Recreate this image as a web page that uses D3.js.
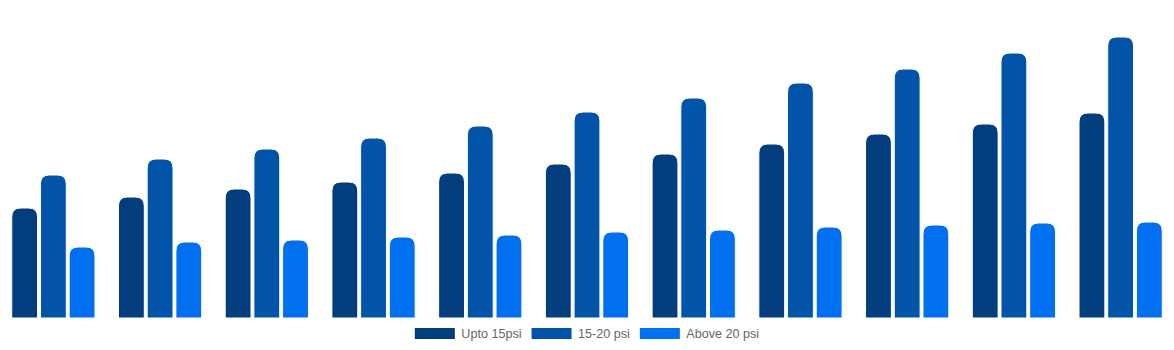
<!DOCTYPE html>
<html>
<head>
<meta charset="utf-8">
<script src="https://cdn.jsdelivr.net/npm/d3@7"></script>
<style>
  body { margin: 0; background: #fff; }
  svg { display: block; }
</style>
</head>
<body>
<svg id="chart"></svg>
<script>
const categories = ['1', '2', '3', '4', '5', '6', '7', '8', '9', '10', '11'];
const seriesNames = ['Upto 15psi', '15-20 psi', 'Above 20 psi'];
const upto15 = [110, 121, 129, 136, 145, 154, 164, 174, 184, 194, 205];
const from15to20 = [143, 159, 169, 180, 192, 206, 220, 235, 249, 265, 281];
const above20 = [71, 76, 78, 81, 83, 86, 88, 91, 93, 95, 96];
const colors = ['#023e7d', '#0254a8', '#006ff0'];

const width = 1174, height = 350;
const baseY = 318, topY = 18;

const series = [upto15, from15to20, above20];
const rows = categories.map((c, i) => ({ cat: c, values: series.map(s => s[i]) }));

const svg = d3.select('#chart')
    .attr('width', width)
    .attr('height', height);

const x0 = d3.scaleBand()
    .domain(categories)
    .range([0, width])
    .paddingInner(0.22)
    .paddingOuter(0.11);

const x1 = d3.scaleBand()
    .domain(d3.range(seriesNames.length))
    .range([0, x0.bandwidth()])
    .paddingInner(0.1);

const y = d3.scaleLinear()
    .domain([0, 300])
    .range([baseY, topY]);

// bar with rounded top corners
function topRounded(x, yTop, w, h, r) {
    r = Math.min(r, w / 2, h);
    return `M${x},${yTop + h}` +
        `V${yTop + r}` +
        `Q${x},${yTop} ${x + r},${yTop}` +
        `H${x + w - r}` +
        `Q${x + w},${yTop} ${x + w},${yTop + r}` +
        `V${yTop + h}Z`;
}

const groups = svg.append('g')
    .selectAll('g')
    .data(rows)
    .join('g')
    .attr('transform', d => `translate(${x0(d.cat)},0)`);

groups.selectAll('path')
    .data(d => d.values.map((v, k) => ({ k: k, v: v })))
    .join('path')
    .attr('d', d => topRounded(x1(d.k), y(d.v), x1.bandwidth(), baseY - y(d.v), 9))
    .attr('fill', d => colors[d.k])
    .attr('stroke', '#fff')
    .attr('stroke-width', 1);

// legend, centred under the plot
const legend = svg.append('g');
const items = legend.selectAll('g')
    .data(seriesNames)
    .join('g');

items.append('rect')
    .attr('width', 40)
    .attr('height', 11)
    .attr('y', 328)
    .attr('fill', (d, i) => colors[i]);

items.append('text')
    .attr('x', 46.5)
    .attr('y', 338)
    .attr('font-family', 'Liberation Sans, Arial, sans-serif')
    .attr('font-size', 12.6)
    .attr('fill', '#666')
    .text(d => d);

let offset = 0;
items.each(function () {
    const w = this.getBBox().width;
    d3.select(this).attr('transform', `translate(${offset},0)`);
    offset += w + 10;
});
const total = offset - 10;
legend.attr('transform', `translate(${(width - total) / 2},0)`);
</script>
</body>
</html>
